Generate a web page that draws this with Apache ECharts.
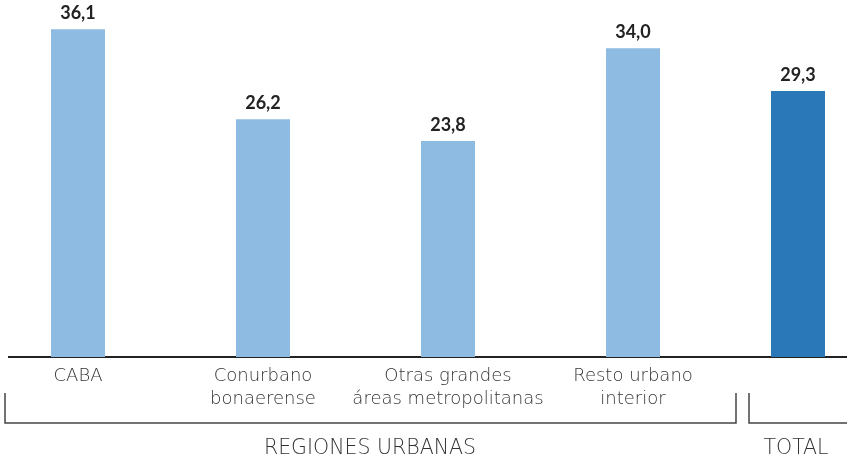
<!DOCTYPE html>
<html>
<head>
<meta charset="utf-8">
<script src="https://cdn.jsdelivr.net/npm/echarts@6/dist/echarts.min.js"></script>
<style>
  html, body { margin: 0; padding: 0; background: #fff; }
  #chart { width: 847px; height: 462px; }
</style>
</head>
<body>
<div id="chart"></div>
<script>
// regiones urbanas
const regionCategories = ['CABA', 'Conurbano\nbonaerense', 'Otras grandes\náreas metropolitanas', 'Resto urbano\ninterior']
const regionValues = [36.1, 26.2, 23.8, 34.0]
// total
const totalCategories = ['TOTAL']
const totalValues = [29.3]
// etiquetas de grupo
const groupLabels = ['REGIONES URBANAS', 'TOTAL']

const chart = echarts.init(document.getElementById('chart'))

const labelFont = 'DejaVu Sans'
const axisY = 357

const valueLabel = {
  show: true,
  position: 'top',
  distance: 7,
  color: '#222',
  fontFamily: 'Lato',
  fontWeight: 'bold',
  fontSize: 18,
  formatter: (p) => p.value.toFixed(1).replace('.', ',')
}

const bracketStyle = { stroke: '#444', lineWidth: 1.5 }
const groupFont = '200 20.5px "DejaVu Sans"'

chart.setOption({
  animation: false,
  grid: [
    // primera y última barra de las regiones en los extremos
    { left: 78, width: 555, top: 12, bottom: 462 - axisY },
    { left: 749, width: 98, top: 12, bottom: 462 - axisY }
  ],
  xAxis: [
    {
      type: 'category',
      gridIndex: 0,
      data: regionCategories,
      boundaryGap: false,
      axisLine: { show: false },
      axisTick: { show: false },
      axisLabel: {
        margin: 8,
        interval: 0,
        color: '#333',
        fontFamily: labelFont,
        fontWeight: 200,
        fontSize: 18,
        lineHeight: 23
      }
    },
    {
      type: 'category',
      gridIndex: 1,
      data: totalCategories,
      axisLine: { show: false },
      axisTick: { show: false },
      axisLabel: { show: false }
    }
  ],
  yAxis: [
    { type: 'value', gridIndex: 0, min: 0, max: 38, show: false },
    { type: 'value', gridIndex: 1, min: 0, max: 38, show: false }
  ],
  series: [
    {
      type: 'bar',
      xAxisIndex: 0,
      yAxisIndex: 0,
      data: regionValues,
      barWidth: 54,
      itemStyle: { color: '#8dbbe2' },
      label: valueLabel
    },
    {
      type: 'bar',
      xAxisIndex: 1,
      yAxisIndex: 1,
      data: totalValues,
      barWidth: 54,
      itemStyle: { color: '#2a78b7' },
      label: valueLabel
    }
  ],
  graphic: [
    // línea base
    { type: 'line', shape: { x1: 8, y1: axisY, x2: 847, y2: axisY }, style: { stroke: '#222', lineWidth: 2 } },
    // corchete regiones urbanas
    { type: 'polyline', shape: { points: [[5, 393], [5, 423], [736, 423], [736, 393]] }, style: bracketStyle },
    // corchete total
    { type: 'polyline', shape: { points: [[749, 393], [749, 423], [850, 423]] }, style: bracketStyle },
    {
      type: 'text', x: 370, y: 449,
      style: { text: groupLabels[0], fill: '#333', font: groupFont, textAlign: 'center', textVerticalAlign: 'middle' }
    },
    {
      type: 'text', x: 796, y: 449,
      style: { text: groupLabels[1], fill: '#333', font: groupFont, textAlign: 'center', textVerticalAlign: 'middle' }
    }
  ]
})
</script>
</body>
</html>
